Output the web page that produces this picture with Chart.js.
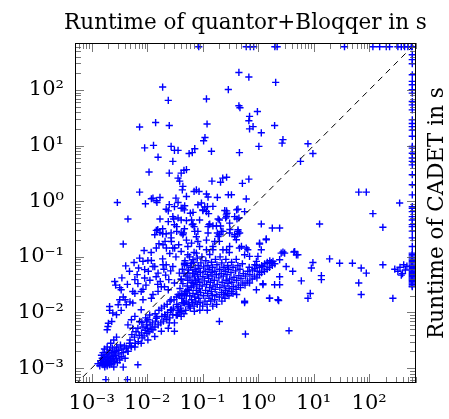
<!DOCTYPE html>
<html><head><meta charset="utf-8">
<script src="https://cdn.jsdelivr.net/npm/chart.js@4.4.0/dist/chart.umd.min.js"></script>
<style>html,body{margin:0;padding:0;background:#fff}</style>
</head><body>
<canvas id="c" width="449" height="419" style="display:block;width:449px;height:419px"></canvas>
<script>
// ---- axis data ----
const TIMEOUT = 600;
const X_MIN = 5e-4, X_MAX = 700, Y_MIN = 5.4e-4, Y_MAX = 700;
const tickValues = [1e-3, 1e-2, 1e-1, 1, 10, 100];
const tickLabels = ['10⁻³', '10⁻²', '10⁻¹', '10⁰', '10¹', '10²'];
const xTitle = 'Runtime of quantor+Bloqqer in s';
const yTitle = 'Runtime of CADET in s';

// ---- series data: [quantor+Bloqqer time, CADET time] ----
const topTimeoutX = [0.085, 0.61, 0.72, 0.83, 2.0, 2.2, 36, 117, 155, 204, 234, 330, 380, 436, 500, 575];
const rightTimeoutY = [600, 431, 351, 297, 188, 143, 124, 101, 88, 62, 54, 44, 29, 25, 22, 19, 14.7, 9.7, 9.0, 7.3, 6.0, 5.2, 4.5, 3.0, 1.98, 1.3, 0.8, 0.75, 0.65, 0.53, 0.46, 0.38, 0.35, 0.29, 0.22, 0.154, 0.117, 0.11, 0.104, 0.098, 0.092, 0.087, 0.082, 0.078, 0.074, 0.07, 0.067, 0.064, 0.061, 0.058, 0.055, 0.052, 0.05, 0.048, 0.046, 0.044, 0.042, 0.04, 0.038, 0.036, 0.034, 0.032, 0.03, 0.029];

const upperScatter = [
[0.019,113],[0.024,65],[0.0073,21.6],[0.0142,26],[0.025,23],[0.117,69],[0.12,24.5],[0.29,102],[0.45,207],[0.68,171],[2.07,137],[0.45,52],[0.47,48],[0.97,41],[0.70,33.5],[0.68,28],[0.81,22],[0.70,20],[1.14,17],[1.98,23],[0.11,14],[2.8,12.8],
[0.009,9.1],[0.013,10.1],[0.027,9.7],[0.031,8.2],[0.036,8.2],[0.0157,6.2],[0.029,5.2],[0.057,7.2],[0.065,7.5],[0.072,8.8],[0.104,12.2],[0.144,7.9],[0.46,7.5],[1.03,9.7],[2.7,11.1],[7.9,10.8],[9.7,7.2],[5.8,5.2],
[0.0108,3.35],[0.025,3.2],[0.041,3.2],[0.046,3.6],[0.051,3.7],[0.036,2.6],[0.0385,2.3],[0.044,1.85],[0.043,1.6],[0.147,2.3],[0.21,2.2],[0.23,2.6],[0.27,2.7],[0.52,2.1],[0.68,2.5],[0.077,1.6],[0.086,1.5],[0.0073,1.46],[0.0127,1.14],[0.017,1.17],[0.0146,1.02],[0.0093,0.9],[0.0029,0.95],[0.0045,0.48],[0.0037,0.17],[0.117,1.35],[0.125,1.19],[0.184,1.17],[0.29,1.31],[0.33,1.31],[0.61,1.1],[0.0119,1.11],[0.015,0.95],[0.051,1.22],[0.033,1.14],[0.07,1.5]
];

const midCloud = [
[0.025,0.87],[0.031,0.8],[0.036,0.95],[0.041,0.75],[0.022,0.72],[0.024,0.67],[0.047,0.70],[0.06,0.61],[0.095,0.93],[0.10,0.70],[0.117,0.65],[0.153,0.81],[0.27,0.67],[0.41,0.70],[0.57,0.65],[0.2,0.46],[0.27,0.53],[0.45,0.5],[0.017,0.48],[0.024,0.43],[0.029,0.53],[0.041,0.46],[0.063,0.46],[0.088,0.46],[0.034,0.35],[0.047,0.32],[0.07,0.35],[0.13,0.38],[0.177,0.36],[0.0146,0.30],[0.0137,0.25],[0.017,0.275],[0.019,0.32],[0.022,0.26],[0.027,0.22],[0.041,0.27],[0.051,0.2],[0.077,0.23],[0.117,0.2],[0.2,0.25],[0.31,0.31],[0.38,0.23],[0.43,0.26],[1.14,0.39],[1.8,0.33],[2.44,0.33],[1.4,0.21],[1.06,0.17],[0.029,0.144],[0.0146,0.144],[0.021,0.19],[0.041,0.125],[0.054,0.154],[0.088,0.154],[0.153,0.134],[0.2,0.19],[0.27,0.134],[0.46,0.144],[0.65,0.134],[0.99,0.102],
[0.0474,0.83],[0.067,0.63],[0.082,0.865],[0.109,0.79],[0.101,0.68],[0.067,0.39],[0.045,0.268],[0.072,0.287],[0.134,0.39],[0.153,0.36],[0.125,0.35],[0.25,0.68],[0.267,0.57],[0.433,0.72],[0.377,0.53],[0.306,0.405],[0.217,0.287],[0.19,0.233],[0.165,0.189],[0.063,0.177],[0.082,0.189],[0.077,0.117],[0.117,0.134],[0.153,0.154],[0.232,0.134],[0.306,0.154],[0.405,0.203],[0.464,0.268],[0.433,0.307],[0.5,0.154],[0.61,0.144],[0.57,0.109],[0.7,0.102],[1.06,0.177],[1.14,0.134],[1.4,0.203],
[0.044,0.75],[0.051,0.45],[0.19,0.48],[0.274,0.61],[0.26,0.5],[0.415,0.48],[0.0155,0.31],[0.019,0.26],[0.027,0.27],[0.034,0.287],[0.031,0.378],[0.044,0.25],[0.065,0.378],[0.082,0.287],[0.125,0.268],[0.184,0.268],[0.232,0.287],[0.306,0.268],[0.377,0.25],[0.433,0.287],[0.122,0.8],[0.128,0.6],[0.21,0.36],[0.03,0.48],[0.036,0.5],
[0.0058,0.079],[0.0084,0.083],[0.0119,0.086],[0.0070,0.063],[0.009,0.059],[0.0137,0.067],[0.0163,0.172],[0.0193,0.165],[0.0273,0.189],[0.0222,0.144],[0.0313,0.144],[0.054,0.109],[0.063,0.077],[0.029,0.067],[0.0193,0.072],[0.0157,0.051],[0.02,0.06],
[0.0041,0.069],[0.0073,0.095],[0.0103,0.086],[0.0127,0.067],[0.019,0.092],[0.022,0.072],[0.033,0.10],[0.047,0.077],[0.067,0.089],
[0.0035,0.042],[0.0048,0.055],[0.0066,0.048],[0.0105,0.055],[0.0112,0.038],[0.0145,0.044],[0.0172,0.036],[0.0215,0.047],[0.0245,0.039],[0.0265,0.056],[0.0032,0.028],[0.0044,0.032],[0.0068,0.033],[0.0095,0.031],[0.0155,0.032],[0.0205,0.029],[0.0118,0.12],[0.0088,0.13],[0.0255,0.115],[0.037,0.165]
];

const lowerBand = [
[0.0026,0.036],[0.006,0.039],[0.0021,0.0128],[0.0024,0.0098],[0.002,0.0064],[0.0019,0.0049],[0.0037,0.019],[0.0042,0.0138],[0.006,0.022],[0.0084,0.026],[0.0127,0.021],[0.0055,0.0148],[0.0078,0.0112],[0.0052,0.0074],[0.0073,0.0069],[0.0097,0.006],[0.0127,0.0049],[0.0146,0.0079],[0.021,0.0085],[0.029,0.0091],[0.025,0.0065],[0.031,0.0046],[0.2,0.0069],[0.59,0.0041],[3.6,0.0047],
[0.0027,0.031],[0.0034,0.0256],[0.009,0.0416],[0.0055,0.0239],[0.0078,0.0239],[0.0032,0.0169],[0.004,0.017],[0.003,0.0138],[0.0021,0.0109],[0.0028,0.0091],[0.00196,0.0056],[0.0023,0.0069],[0.0034,0.0109],[0.0049,0.0155],[0.006,0.0085],[0.0084,0.017],[0.0119,0.018],[0.0157,0.024],[0.0045,0.006],[0.0055,0.0052],[0.008,0.0066],[0.0103,0.0074],[0.015,0.0084],[0.0207,0.0091],[0.0273,0.0112],[0.036,0.0128],[0.0474,0.0148],[0.063,0.017],[0.041,0.0085],[0.031,0.0065],[0.024,0.0052],[0.018,0.0046],[0.0137,0.0037],[0.0103,0.0032],[0.0078,0.0028],[0.006,0.0024],[0.0045,0.002],[0.054,0.0256],[0.047,0.021],[0.067,0.0335],[0.036,0.021],[0.027,0.017],[0.024,0.0256],[0.018,0.029],[0.041,0.039],[0.031,0.034],[0.054,0.051],[0.038,0.051],[0.047,0.072],[0.067,0.051],
[0.0051,0.0025],[0.0049,0.0032],[0.0053,0.004],[0.0061,0.0028],[0.0059,0.0036],[0.0063,0.0045],[0.0069,0.003],[0.0072,0.0039],[0.0068,0.0052],[0.0081,0.0035],[0.0079,0.0043],[0.0084,0.0055],[0.0088,0.0038],[0.0092,0.0048],[0.0094,0.008],[0.0099,0.0042],[0.0102,0.0052],[0.0098,0.007],[0.0108,0.0045],[0.0113,0.006],[0.0111,0.009],[0.0118,0.005],[0.0124,0.0065],[0.0138,0.0055],[0.0142,0.007],[0.0139,0.0095],[0.0158,0.006],[0.0163,0.011],[0.0176,0.0065],[0.0184,0.0085],[0.0181,0.012],[0.0196,0.007],[0.0204,0.013],[0.0226,0.0075],[0.0233,0.01],[0.0229,0.014],[0.0255,0.008],[0.0264,0.011],[0.0258,0.016],[0.0296,0.012],[0.0305,0.017],[0.0334,0.009],[0.0342,0.014],[0.0338,0.019],[0.0377,0.01],[0.0385,0.02],[0.0416,0.0105],[0.0425,0.015],[0.0421,0.022],[0.0495,0.011],[0.0505,0.016],[0.0498,0.024],[0.0575,0.013],[0.0585,0.02]
];

const bottomBlob = [
[0.0013,0.0012],[0.0014,0.0011],[0.00145,0.00135],[0.0015,0.00125],[0.00155,0.0015],[0.0016,0.00115],[0.00162,0.0014],[0.00165,0.0013],[0.0017,0.0016],[0.00172,0.00105],[0.00175,0.0012],[0.0018,0.00145],[0.00182,0.00175],[0.00185,0.0013],[0.0019,0.0011],[0.00192,0.00155],[0.00195,0.0019],[0.002,0.00125],[0.00202,0.0014],[0.00205,0.00165],[0.0021,0.00115],[0.00212,0.0021],[0.0022,0.00135],[0.00222,0.0015],[0.00225,0.0018],[0.0023,0.0012],[0.00235,0.0023],[0.0024,0.0016],[0.00245,0.0014],[0.0025,0.00105],[0.00252,0.0019],[0.0026,0.0013],[0.00262,0.002],[0.0027,0.0017],[0.0028,0.0015],[0.00282,0.0024],[0.0029,0.00125],[0.003,0.0021],[0.0031,0.0018],[0.0032,0.0014],[0.0033,0.0026],[0.0034,0.0016],[0.0035,0.0022],[0.0037,0.0019],[0.0039,0.0025],[0.004,0.0015],[0.0042,0.0023],[0.0045,0.002],[0.0048,0.0028],[0.0052,0.0024],
[0.0018,0.00062],[0.0044,0.00062],[0.0068,0.00115],[0.0037,0.00104],[0.0021,0.00123],
[0.0016,0.0019],[0.0019,0.0024],[0.0022,0.0028],[0.0017,0.0022],[0.0025,0.0032],[0.0028,0.0036],[0.0015,0.0017]
];

const coreCluster = [
[0.040,0.012],[0.042,0.018],[0.039,0.027],[0.041,0.04],[0.043,0.06],
[0.045,0.015],[0.047,0.022],[0.044,0.033],[0.046,0.05],[0.048,0.085],
[0.051,0.02],[0.053,0.03],[0.05,0.045],[0.052,0.07],
[0.055,0.014],[0.057,0.025],[0.054,0.038],[0.056,0.058],[0.058,0.1],
[0.06,0.012],[0.062,0.028],[0.059,0.042],[0.061,0.065],
[0.065,0.015],[0.067,0.022],[0.064,0.035],[0.066,0.05],[0.068,0.08],
[0.07,0.013],[0.072,0.019],[0.069,0.03],[0.071,0.045],[0.073,0.06],[0.07,0.12],
[0.075,0.016],[0.077,0.025],[0.074,0.038],[0.076,0.055],
[0.08,0.014],[0.082,0.021],[0.079,0.032],[0.081,0.048],[0.083,0.07],[0.08,0.095],
[0.085,0.018],[0.087,0.027],[0.084,0.04],[0.086,0.062],
[0.09,0.015],[0.092,0.023],[0.089,0.035],[0.091,0.052],[0.093,0.078],
[0.1,0.013],[0.103,0.02],[0.098,0.03],[0.101,0.044],[0.104,0.066],[0.097,0.1],
[0.11,0.016],[0.113,0.025],[0.108,0.037],[0.111,0.055],[0.114,0.085],
[0.12,0.014],[0.123,0.022],[0.118,0.032],[0.121,0.048],[0.124,0.07],
[0.13,0.018],[0.133,0.028],[0.128,0.041],[0.131,0.06],[0.134,0.11],
[0.14,0.016],[0.143,0.024],[0.138,0.035],[0.141,0.052],[0.144,0.08],
[0.15,0.02],[0.153,0.03],[0.148,0.045],[0.151,0.065],
[0.165,0.017],[0.168,0.026],[0.162,0.038],[0.166,0.055],[0.17,0.09],
[0.18,0.021],[0.183,0.032],[0.177,0.048],[0.181,0.072],
[0.2,0.019],[0.204,0.028],[0.196,0.042],[0.201,0.06],[0.206,0.1],
[0.22,0.023],[0.224,0.035],[0.216,0.05],[0.221,0.078],
[0.24,0.021],[0.244,0.03],[0.236,0.045],[0.241,0.065],
[0.26,0.025],[0.265,0.038],[0.255,0.055],[0.262,0.09],
[0.28,0.022],[0.285,0.033],[0.275,0.048],[0.282,0.07],
[0.3,0.027],[0.306,0.04],[0.294,0.06],[0.302,0.12],
[0.33,0.024],[0.336,0.035],[0.324,0.052],[0.332,0.08],
[0.36,0.029],[0.367,0.043],[0.353,0.065],
[0.4,0.026],[0.408,0.038],[0.392,0.056],[0.403,0.09],
[0.44,0.031],[0.449,0.046],[0.431,0.07],
[0.48,0.028],[0.49,0.041],[0.47,0.06],
[0.53,0.034],[0.54,0.05],[0.52,0.075],
[0.58,0.031],[0.59,0.045],
[0.64,0.037],[0.65,0.055],
[0.7,0.034],[0.71,0.048],[0.69,0.065],
[0.78,0.04],[0.79,0.058],
[0.86,0.045],[0.87,0.062],
[0.95,0.042],[0.96,0.055],[0.94,0.07],
[1.05,0.048],[1.06,0.065],
[1.15,0.052],[1.16,0.07],
[1.3,0.055],[1.31,0.075],
[1.45,0.06],[1.46,0.08],
[1.6,0.065],[1.62,0.085],
[1.8,0.07],[2.0,0.075],
[0.035,0.009],[0.036,0.011],[0.046,0.0095],[0.071,0.0105],[0.089,0.011],[0.121,0.011],[0.152,0.013],[0.179,0.014],[0.222,0.016],[0.252,0.018],[0.298,0.02],[0.352,0.022],[0.41,0.021]
];

const rightScatter = [
[65,1.46],[89,1.46],[117,0.6],[177,0.34],[355,0.93],[12.8,0.39],[2.8,0.122],[4.4,0.122],[4.9,0.109],[1.73,0.079],[2.44,0.089],[9.7,0.079],[19.4,0.092],[29.4,0.077],[50,0.077],[72,0.063],[89,0.051],[177,0.072],[9.1,0.063],[13.8,0.046],[0.57,0.015],[1.6,0.018],[2.34,0.0164],[7.9,0.018],[8.7,0.022],[72,0.021],[268,0.018],[65,0.034],[6.0,0.037],[13.8,0.039],[1.22,0.033],[2.6,0.117],[3.0,0.117],[4.55,0.125],[5.2,0.109],[0.93,0.083],[0.87,0.072],[1.22,0.067],[1.61,0.077],[1.85,0.083],[3.2,0.067],[4.2,0.055],[2.44,0.044],[1.98,0.0316],[2.44,0.0316],[1.22,0.0316],[0.93,0.0256],[1.61,0.018],[2.27,0.017],[0.57,0.0159],[290,0.06],[330,0.055],[360,0.065],[400,0.05],[450,0.058],[480,0.068],[420,0.072],[380,0.047]
];

// ---- styling ----
const FONT = '"DejaVu Serif", "Liberation Serif", serif';
const BLUE = '#0000ff';

function pts(arr){ return arr.map(p => ({x: p[0], y: p[1]})); }
function marks(label, data) {
  return {
    label, data,
    showLine: false,
    pointStyle: 'cross', pointRadius: 3.6, pointBorderWidth: 1.4,
    borderColor: BLUE, backgroundColor: BLUE,
    pointBorderColor: BLUE, pointBackgroundColor: BLUE,
    pointHoverRadius: 3.6, pointHoverBorderWidth: 1.4
  };
}

const datasets = [
  {label: 'diagonal', data: [{x: 1e-4, y: 1e-4}, {x: 1e4, y: 1e4}], showLine: true, borderColor: '#000', backgroundColor: '#000', borderWidth: 1, borderDash: [6, 5], pointRadius: 0, pointHoverRadius: 0, fill: false},
  marks('solved-upper', pts(upperScatter)),
  marks('solved-mid', pts(midCloud)),
  marks('solved-band', pts(lowerBand)),
  marks('solved-low', pts(bottomBlob)),
  marks('solved-core', pts(coreCluster)),
  marks('solved-right', pts(rightScatter)),
  marks('CADET timeout', topTimeoutX.map(v => ({x: v, y: TIMEOUT}))),
  marks('quantor timeout', rightTimeoutY.map(v => ({x: TIMEOUT, y: v})))
];

const frameTicks = {
  id: 'frameTicks',
  afterDatasetsDraw(chart) {
    const {ctx, chartArea: a, scales: {x, y}} = chart;
    ctx.save();
    ctx.setLineDash([]);
    ctx.strokeStyle = '#555';
    ctx.lineWidth = 0.8;
    const line = (x1, y1, x2, y2) => { ctx.beginPath(); ctx.moveTo(x1, y1); ctx.lineTo(x2, y2); ctx.stroke(); };
    for (let e = -4; e <= 3; e++) {
      for (let m = 1; m <= 9; m++) {
        const v = m * Math.pow(10, e);
        const len = m === 1 ? 9 : 6;
        if (v >= x.min && v <= x.max) {
          const px = Math.round(x.getPixelForValue(v)) + 0.5;
          line(px, a.bottom, px, a.bottom - len);
          line(px, a.top, px, a.top + len);
        }
        if (v >= y.min && v <= y.max) {
          const py = Math.round(y.getPixelForValue(v)) + 0.5;
          line(a.left, py, a.left + len, py);
          line(a.right, py, a.right - len, py);
        }
      }
    }
    ctx.strokeStyle = '#000';
    ctx.lineWidth = 1;
    ctx.strokeRect(a.left + 0.5, a.top + 0.5, a.right - a.left - 1, a.bottom - a.top - 1);
    ctx.restore();
  }
};

const axisTitles = {
  id: 'axisTitles',
  afterDraw(chart) {
    const {ctx, chartArea: a} = chart;
    ctx.save();
    ctx.font = '21.5px ' + FONT;
    ctx.fillStyle = '#000';
    ctx.textAlign = 'center';
    ctx.textBaseline = 'alphabetic';
    ctx.fillText(xTitle, (a.left + a.right) / 2, 29);
    ctx.translate(a.right + 27, (a.top + a.bottom) / 2);
    ctx.rotate(-Math.PI / 2);
    ctx.fillText(yTitle, 0, 0);
    ctx.restore();
  }
};

function setTicks(scale) { scale.ticks = tickValues.map(v => ({value: v})); }

new Chart(document.getElementById('c'), {
  type: 'scatter',
  data: {datasets},
  options: {
    responsive: false,
    animation: false,
    devicePixelRatio: 1,
    events: [],
    layout: {padding: {left: 0, right: 33, top: 43, bottom: 0}},
    plugins: {
      legend: {display: false},
      tooltip: {enabled: false},
      title: {display: false}
    },
    scales: {
      x: {
        type: 'logarithmic', min: X_MIN, max: X_MAX, position: 'bottom',
        grid: {display: false, drawTicks: false}, border: {display: false},
        afterBuildTicks: setTicks,
        ticks: {callback: (v, i) => tickLabels[i], color: '#000', font: {family: FONT, size: 21}, padding: 8, maxRotation: 0, minRotation: 0, autoSkip: false},
        afterFit: s => { s.height = 36; }
      },
      y: {
        type: 'logarithmic', min: Y_MIN, max: Y_MAX, position: 'left',
        grid: {display: false, drawTicks: false}, border: {display: false},
        afterBuildTicks: setTicks,
        ticks: {callback: (v, i) => tickLabels[i], color: '#000', font: {family: FONT, size: 21}, padding: 11, autoSkip: false},
        afterFit: s => { s.width = 75; }
      }
    }
  },
  plugins: [frameTicks, axisTitles]
});
</script>
</body></html>
